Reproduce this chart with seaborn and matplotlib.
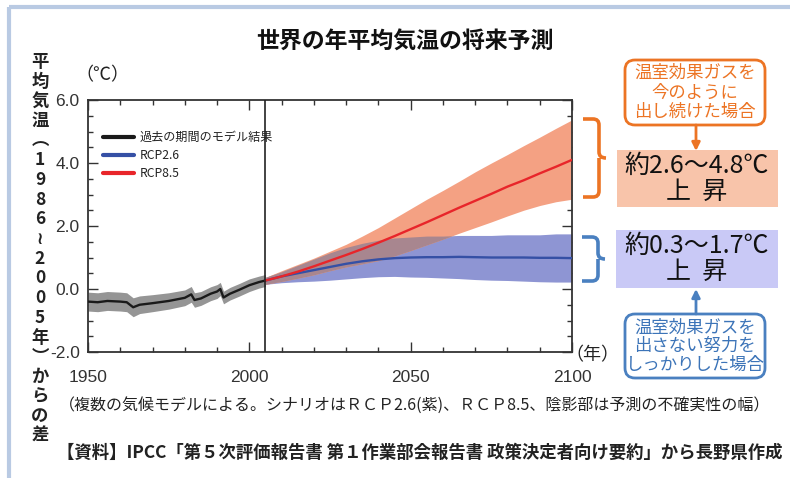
import matplotlib
matplotlib.use("Agg")
import matplotlib.pyplot as plt
import seaborn as sns
import numpy as np
import pandas as pd
from matplotlib.patches import FancyBboxPatch, Rectangle, PathPatch
from matplotlib.path import Path
from matplotlib.ticker import MultipleLocator

# ---------------- data ----------------
hist_years = [1950, 1953, 1956, 1960, 1962, 1963, 1964, 1966, 1970, 1975, 1980, 1982,
              1983, 1985, 1988, 1990, 1991, 1992, 1994, 1997, 2000, 2003, 2005]
hist_mean = [-0.40, -0.42, -0.38, -0.40, -0.42, -0.50, -0.58, -0.50, -0.45, -0.38, -0.28, -0.17,
             -0.35, -0.30, -0.15, -0.08, 0.00, -0.27, -0.15, -0.02, 0.12, 0.22, 0.27]
hist_low = [-0.70, -0.72, -0.68, -0.70, -0.72, -0.80, -0.88, -0.78, -0.72, -0.64, -0.53, -0.42,
            -0.58, -0.52, -0.37, -0.30, -0.21, -0.47, -0.35, -0.22, -0.08, 0.03, 0.08]
hist_high = [-0.10, -0.12, -0.08, -0.10, -0.12, -0.20, -0.28, -0.22, -0.18, -0.12, -0.03, 0.08,
             -0.12, -0.08, 0.07, 0.14, 0.21, -0.07, 0.05, 0.18, 0.32, 0.41, 0.46]

proj_years = [2005, 2010, 2015, 2020, 2025, 2030, 2035, 2040, 2045, 2050,
              2055, 2060, 2065, 2070, 2075, 2080, 2085, 2090, 2095, 2100]
rcp85_mean = [0.27, 0.40, 0.55, 0.72, 0.90, 1.08, 1.27, 1.47, 1.68, 1.90,
              2.12, 2.35, 2.58, 2.80, 3.02, 3.25, 3.45, 3.67, 3.88, 4.10]
rcp85_low = [0.15, 0.24, 0.34, 0.45, 0.58, 0.70, 0.80, 0.90, 1.05, 1.22,
             1.40, 1.58, 1.77, 1.95, 2.13, 2.32, 2.50, 2.65, 2.77, 2.85]
rcp85_high = [0.37, 0.58, 0.78, 0.98, 1.20, 1.42, 1.68, 1.95, 2.25, 2.55,
              2.85, 3.13, 3.42, 3.72, 4.00, 4.27, 4.55, 4.82, 5.10, 5.37]
rcp26_mean = [0.27, 0.40, 0.50, 0.60, 0.70, 0.80, 0.88, 0.94, 0.98, 1.00,
              1.01, 1.01, 1.02, 1.01, 1.00, 1.00, 1.00, 0.99, 0.99, 0.98]
rcp26_low = [0.15, 0.20, 0.23, 0.25, 0.28, 0.32, 0.36, 0.39, 0.40, 0.38,
             0.37, 0.35, 0.33, 0.30, 0.28, 0.27, 0.25, 0.23, 0.22, 0.22]
rcp26_high = [0.37, 0.55, 0.75, 0.95, 1.15, 1.32, 1.45, 1.55, 1.62, 1.65,
              1.68, 1.68, 1.70, 1.70, 1.70, 1.72, 1.72, 1.72, 1.75, 1.75]

series_names = ["過去の期間のモデル結果", "RCP2.6", "RCP8.5"]
x_ticks = [1950, 2000, 2050, 2100]
y_ticks = [-2.0, 0.0, 2.0, 4.0, 6.0]

title = "世界の年平均気温の将来予測"
ylabel = "平均気温︵1986≀2005年︶からの差"
caption = "（複数の気候モデルによる。シナリオはＲＣＰ2.6(紫)、ＲＣＰ8.5、陰影部は予測の不確実性の幅）"
source = "【資料】IPCC「第５次評価報告書 第１作業部会報告書 政策決定者向け要約」から長野県作成"
high_label = "温室効果ガスを\n今のように\n出し続けた場合"
high_range = "約2.6～4.8℃\n上  昇"
low_label = "温室効果ガスを\n出さない努力を\nしっかりした場合"
low_range = "約0.3～1.7℃\n上  昇"

# ---------------- style ----------------
sns.set_theme(style="white")
plt.rcParams['font.family'] = ['Noto Sans CJK JP', 'DejaVu Sans']

W, H = 790, 478
fig = plt.figure(figsize=(W / 100, H / 100), dpi=100)
fig.patch.set_facecolor("white")
ax = fig.add_axes([88 / W, 1 - 352 / H, 484 / W, 252 / H])

c_black = "#1a1a1a"
c_blue = "#3550a5"
c_red = "#e8252a"
orange = "#ec7424"
blue_ann = "#4a80c0"

# bands
ax.fill_between(hist_years, hist_low, hist_high, color="#959595", lw=0, zorder=1)
ax.fill_between(proj_years, rcp26_low, rcp26_high, color="#8e95d3", lw=0, zorder=1)
ax.fill_between(proj_years, rcp85_low, rcp85_high, color="#f4a183", lw=0, zorder=1.5)
ov_low = np.maximum(rcp26_low, rcp85_low)
ov_high = np.minimum(rcp26_high, rcp85_high)
ax.fill_between(proj_years, ov_low, ov_high, where=ov_high > ov_low, interpolate=True,
                color="#a8868f", lw=0, zorder=2)

df = pd.concat([
    pd.DataFrame({"year": hist_years, "temp": hist_mean, "series": series_names[0]}),
    pd.DataFrame({"year": proj_years, "temp": rcp26_mean, "series": series_names[1]}),
    pd.DataFrame({"year": proj_years, "temp": rcp85_mean, "series": series_names[2]}),
])
sns.lineplot(data=df, x="year", y="temp", hue="series", hue_order=series_names,
             palette=[c_black, c_blue, c_red], linewidth=1.7, ax=ax, zorder=3)

ax.axvline(2005, color="#222222", lw=1.2, zorder=4)

ax.set_xlim(1950, 2100)
ax.set_ylim(-2.0, 6.0)
ax.set_xticks(x_ticks)
ax.set_yticks(y_ticks)
ax.set_xticklabels([str(v) for v in x_ticks])
ax.set_yticklabels([f"{v:.1f}" for v in y_ticks])
ax.xaxis.set_minor_locator(MultipleLocator(10))
ax.yaxis.set_minor_locator(MultipleLocator(0.5))
ax.tick_params(which="both", direction="in", top=True, right=True, bottom=True, left=True,
               color="#333333", width=1.0)
ax.tick_params(which="major", length=7)
ax.tick_params(which="minor", length=3.5)
ax.tick_params(axis="both", which="major", labelsize=12.5, labelcolor="#333333")
ax.tick_params(axis="y", which="major", pad=6)
ax.tick_params(axis="x", which="major", pad=13)
for lab in ax.get_xticklabels() + ax.get_yticklabels():
    lab.set_family(["Liberation Sans", "DejaVu Sans"])
for s in ax.spines.values():
    s.set_color("#333333")
    s.set_linewidth(1.3)
ax.set_xlabel("")
ax.set_ylabel("")

leg = ax.legend(loc="upper left", bbox_to_anchor=(0.02, 0.895), frameon=False,
                fontsize=8.7, handlelength=2.6, handletextpad=0.5, labelspacing=0.42,
                borderaxespad=0)
for line in leg.get_lines():
    line.set_linewidth(3)
for t in leg.get_texts():
    t.set_color("#222222")

# ---------------- overlay in pixel coords ----------------
ov = fig.add_axes([0, 0, 1, 1], zorder=5)
ov.set_xlim(0, W)
ov.set_ylim(H, 0)
ov.axis("off")
ov.patch.set_alpha(0)

# border
ov.plot([9, 9], [7, H], color="#b9cae3", lw=3, solid_capstyle="butt")
ov.plot([9, W], [7, 7], color="#b9cae3", lw=3, solid_capstyle="butt")

ov.text(405, 42, title, ha="center", va="center", fontsize=16.5, fontweight="bold", color="#111111")
ov.text(102, 75, "（℃）", ha="center", va="center", fontsize=13, color="#222222")
ov.text(592, 355, "（年）", ha="center", va="center", fontsize=13, color="#222222")
ov.text(40, 53, "\n".join(list(ylabel)), ha="center", va="top", fontsize=12.5,
        fontweight="bold", linespacing=1.12, color="#222222")
ov.text(415, 405, caption, ha="center", va="center", fontsize=11.5, color="#222222")
ov.text(420, 453, source, ha="center", va="center", fontsize=12.5, fontweight="bold", color="#222222")


def brace(x0, x1, y0, y1, color):
    ym = (y0 + y1) / 2
    r = 6
    verts = [(x0, y0), (x1 - r, y0), (x1, y0), (x1, y0 + r),
             (x1, ym - r), (x1, ym), (x1 + 7, ym),
             (x1, ym), (x1, ym + r),
             (x1, y1 - r), (x1, y1), (x1 - r, y1), (x0, y1)]
    codes = [Path.MOVETO, Path.LINETO, Path.CURVE3, Path.CURVE3,
             Path.LINETO, Path.CURVE3, Path.CURVE3,
             Path.MOVETO, Path.LINETO,
             Path.LINETO, Path.CURVE3, Path.CURVE3, Path.LINETO]
    ov.add_patch(PathPatch(Path(verts, codes), fill=False, edgecolor=color, lw=2.6))


brace(583, 599, 119, 197, orange)
brace(582, 598, 237, 281, blue_ann)

# top annotation
ov.add_patch(FancyBboxPatch((625, 60), 140, 65, boxstyle="round,pad=0,rounding_size=10",
                            facecolor="white", edgecolor=orange, lw=2))
ov.text(695, 92.5, high_label, ha="center", va="center", fontsize=12.5, color=orange, linespacing=1.1)
ov.annotate("", xy=(696, 151), xytext=(696, 125),
            arrowprops=dict(arrowstyle="-|>", color=orange, lw=2, mutation_scale=12,
                            shrinkA=0, shrinkB=0))
ov.add_patch(Rectangle((617, 150), 161, 57, facecolor="#f8c4aa", edgecolor="none"))
ov.text(697, 179, high_range, ha="center", va="center", fontsize=18, color="#111111", linespacing=0.98)

# bottom annotation
ov.add_patch(Rectangle((616, 230), 162, 58, facecolor="#c9c9f6", edgecolor="none"))
ov.text(697, 259, low_range, ha="center", va="center", fontsize=18, color="#111111", linespacing=0.98)
ov.annotate("", xy=(696, 289), xytext=(696, 314),
            arrowprops=dict(arrowstyle="-|>", color=blue_ann, lw=2, mutation_scale=12,
                            shrinkA=0, shrinkB=0))
ov.add_patch(FancyBboxPatch((625, 314), 140, 64, boxstyle="round,pad=0,rounding_size=10",
                            facecolor="white", edgecolor=blue_ann, lw=2))
ov.text(695, 346, low_label, ha="center", va="center", fontsize=12.5, color="#3c74b8", linespacing=1.05)

fig.savefig("out.png", dpi=100)
